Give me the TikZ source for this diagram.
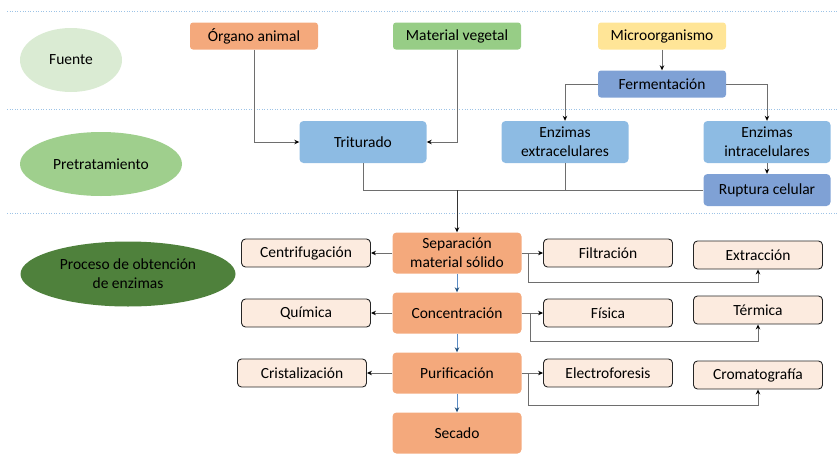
\documentclass[tikz,border=0pt]{standalone}
\usepackage{fontspec}
\setmainfont{Carlito}
\usepackage{tikz}
\usetikzlibrary{arrows.meta, shapes.geometric}
\definecolor{fuentegreen}{HTML}{DAEBD3}
\definecolor{pregreen}{HTML}{9FCF8D}
\definecolor{procgreen}{HTML}{4F813C}
\definecolor{animalorange}{HTML}{F4A97C}
\definecolor{vegetalgreen}{HTML}{97CD86}
\definecolor{microyellow}{HTML}{FFE597}
\definecolor{fermblue}{HTML}{7FA1D5}
\definecolor{preblue}{HTML}{8DBBE3}
\definecolor{optfill}{HTML}{FCEBDF}
\definecolor{linegray}{HTML}{6E6E6E}
\definecolor{flowblue}{HTML}{5B8CC4}
\definecolor{tipblue}{HTML}{1F4E79}
\definecolor{sepblue}{HTML}{9DC3E6}
\tikzstyle{phase}    = [ellipse, inner sep=0pt, text centered, align=center]
\tikzstyle{srcbox}   = [rectangle, rounded corners=3pt, minimum width=128pt, minimum height=27pt, text centered]
\tikzstyle{prebox}   = [rectangle, rounded corners=4pt, minimum width=127pt, minimum height=42pt, align=center, fill=preblue]
\tikzstyle{procbox}  = [rectangle, rounded corners=4pt, minimum width=129pt, minimum height=41pt, align=center, fill=animalorange]
\tikzstyle{optbox}   = [rectangle, rounded corners=4pt, minimum width=129pt, minimum height=28pt, text centered, draw=black!85, line width=0.9pt, fill=optfill]
\tikzstyle{line}     = [draw=linegray, line width=0.9pt]
\tikzstyle{arrow}    = [line, -{Stealth[black, length=5pt, width=4.5pt]}]
\tikzstyle{flow}     = [draw=flowblue, line width=0.9pt, -{Stealth[tipblue, length=5pt, width=4.5pt]}]
\tikzstyle{divider}  = [draw=sepblue, dotted, line width=0.6pt]

\begin{document}
\begin{tikzpicture}[x=1pt, y=-1pt, node distance=60pt, font=\fontsize{15.5pt}{19pt}\selectfont]
      \useasboundingbox (0,0) rectangle (838,453);

      \draw [divider] (7,11)  -- (838,11);
      \draw [divider] (7,109) -- (838,109);
      \draw [divider] (7,213) -- (838,213);

      \node (fuente) [phase, fill=fuentegreen, minimum width=102pt, minimum height=64pt] at (71,60)   {Fuente};
      \node (pret)   [phase, fill=pregreen,    minimum width=162pt, minimum height=64pt] at (101,164) {Pretratamiento};
      \node (proc)   [phase, fill=procgreen,   minimum width=215pt, minimum height=65pt] at (128,274) {Proceso de obtención\\de enzimas};

      \node (organo) [srcbox, fill=animalorange]                              at (254,36) {Órgano animal};
      \node (veg)    [srcbox, fill=vegetalgreen, right of=organo, xshift=143pt]           {Material vegetal};
      \node (micro)  [srcbox, fill=microyellow,  right of=veg,    xshift=145pt]           {Microorganismo};
      \node (ferm)   [srcbox, fill=fermblue,     below of=micro,  yshift=12pt]            {Fermentación};

      \node (trit)   [prebox]                                                 at (363,142) {Triturado};
      \node (extra)  [prebox, right of=trit,  xshift=142pt]                                {Enzimas\\extracelulares};
      \node (intra)  [prebox, right of=extra, xshift=142pt]                                {Enzimas\\intracelulares};
      \node (rupt)   [prebox, fill=fermblue, minimum height=32pt, below of=intra, yshift=12pt] {Ruptura celular};

      \node (sep)    [procbox]                                                at (457,253) {Separación\\material sólido};
      \node (conc)   [procbox, below of=sep]  {Concentración};
      \node (puri)   [procbox, below of=conc] {Purificación};
      \node (sec)    [procbox, below of=puri] {Secado};

      \node (centr)  [optbox, left of=sep,   xshift=-91pt]               {Centrifugación};
      \node (filt)   [optbox, right of=sep,  xshift=91pt]                {Filtración};
      \node (extr)   [optbox, right of=filt, xshift=90pt, yshift=-2pt]   {Extracción};

      \node (quim)   [optbox, left of=conc,  xshift=-91pt]               {Química};
      \node (fis)    [optbox, right of=conc, xshift=91pt]                {Física};
      \node (term)   [optbox, right of=fis,  xshift=90pt, yshift=3pt]    {Térmica};

      \node (crist)  [optbox, left of=puri,  xshift=-95pt]               {Cristalización};
      \node (elec)   [optbox, right of=puri, xshift=91pt]                {Electroforesis};
      \node (crom)   [optbox, right of=elec, xshift=90pt, yshift=-2pt]   {Cromatografía};

      \coordinate (join) at (sep.north |- rupt.west);

      \draw [arrow] (organo.south) |- (trit.west);
      \draw [arrow] (veg.south)    |- (trit.east);
      \draw [arrow] (micro) -- (ferm);
      \draw [arrow] (ferm.west) -| (extra.north);
      \draw [arrow] (ferm.east) -| (intra.north);
      \draw [arrow] (intra) -- (rupt);

      \draw [line] (trit.south) |- (rupt.west);
      \draw [line] (extra.south) -- (extra.south |- rupt.west);
      \draw [arrow, draw=black!80] (join) -- (sep.north);

      \draw [flow] (sep) -- (conc);
      \draw [flow] (conc) -- (puri);
      \draw [flow] (puri) -- (sec);

      \draw [arrow] (sep.west)  -- (centr.east);
      \draw [arrow] (conc.west) -- (quim.east);
      \draw [arrow] (puri.west) -- (crist.east);

      \draw [arrow] (sep.east)  -- (filt.west);
      \draw [arrow] (conc.east) -- (fis.west);
      \draw [arrow] (puri.east) -- (elec.west);

      \draw [arrow] ([xshift=7pt]sep.east)  -- ++(0,29) -| (extr.south);
      \draw [arrow] ([xshift=9pt]conc.east) -- ++(0,28) -| (term.south);
      \draw [arrow] ([xshift=7pt]puri.east) -- ++(0,32) -| (crom.south);

    \end{tikzpicture}
\end{document}
